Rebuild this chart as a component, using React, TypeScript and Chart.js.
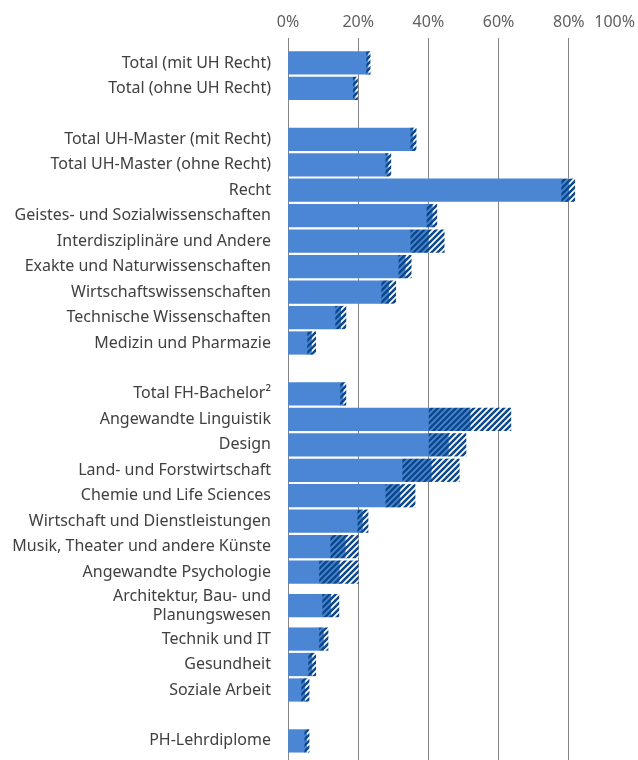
import { useEffect, useRef } from 'react';
import { Chart, registerables } from 'chart.js';

Chart.register(...registerables);

const categories = [
  'Total (mit UH Recht)',
  'Total (ohne UH Recht)',
  '',
  'Total UH-Master (mit Recht)',
  'Total UH-Master (ohne Recht)',
  'Recht',
  'Geistes- und Sozialwissenschaften',
  'Interdisziplinäre und Andere',
  'Exakte und Naturwissenschaften',
  'Wirtschaftswissenschaften',
  'Technische Wissenschaften',
  'Medizin und Pharmazie',
  '',
  'Total FH-Bachelor²',
  'Angewandte Linguistik',
  'Design',
  'Land- und Forstwirtschaft',
  'Chemie und Life Sciences',
  'Wirtschaft und Dienstleistungen',
  'Musik, Theater und andere Künste',
  'Angewandte Psychologie',
  'Architektur, Bau- und\nPlanungswesen',
  'Technik und IT',
  'Gesundheit',
  'Soziale Arbeit',
  '',
  'PH-Lehrdiplome',
];

// point estimate (%)
const estimate = [22.8, 19.1, null, 35.6, 28.5, 80.0, 41.1, 40.0, 33.4, 28.7, 15.0, 6.7, null, 15.7, 51.9, 45.7, 40.8, 31.9, 21.2, 16.3, 14.6, 12.2, 10.1, 6.8, 4.8, null, 5.3];
// lower bound of interval (%)
const lower = [22.2, 18.4, null, 34.8, 27.7, 77.8, 39.4, 34.8, 31.4, 26.5, 13.4, 5.4, null, 14.8, 40.0, 40.0, 32.5, 27.7, 19.7, 12.0, 8.8, 9.7, 8.8, 5.7, 3.7, null, 4.6];
// upper bound of interval (%)
const upper = [23.4, 19.8, null, 36.5, 29.3, 81.7, 42.4, 44.5, 35.1, 30.7, 16.5, 7.9, null, 16.5, 63.5, 50.7, 48.8, 36.2, 22.8, 20.0, 20.0, 14.5, 11.4, 7.9, 6.0, null, 6.0];

const xTicks = [0, 20, 40, 60, 80, 100];

const BLUE = '#4a86d4';
const DARK = '#0b4789';
const EXTRA_PER_LINE = 0.63;

function makeHatch(bg: string) {
  const p = 6;
  const T = 12;
  const c = document.createElement('canvas');
  c.width = T;
  c.height = T;
  const g = c.getContext('2d')!;
  g.fillStyle = bg;
  g.fillRect(0, 0, T, T);
  g.strokeStyle = DARK;
  g.lineWidth = 2.5;
  for (let k = -1; k <= 5; k++) {
    const cc = k * p;
    g.beginPath();
    g.moveTo(cc + 3, -3);
    g.lineTo(cc - T - 3, T + 3);
    g.stroke();
  }
  return g.createPattern(c, 'repeat')!;
}

export default function App() {
  const ref = useRef<HTMLCanvasElement | null>(null);

  useEffect(() => {
    if (!ref.current) return;
    // row positions (multi-line labels get extra room)
    const pos: number[] = [];
    let p = 0;
    categories.forEach((c) => {
      const n = c.split('\n').length;
      p += ((n - 1) * EXTRA_PER_LINE) / 2;
      pos.push(p);
      p += ((n - 1) * EXTRA_PER_LINE) / 2 + 1;
    });
    const idx = categories.map((_, i) => i).filter((i) => categories[i] !== '');
    const tickPos = idx.map((i) => pos[i]);
    const tickLabels = idx.map((i) => {
      const parts = categories[i].split('\n');
      return parts.length > 1 ? parts : parts[0];
    });

    const hatchDark = makeHatch(BLUE);
    const hatchLight = makeHatch('#ffffff');

    const xLabelPlugin = {
      id: 'xLabels',
      afterDraw(chart: any) {
        const s = chart.scales.x;
        const ctx = chart.ctx;
        ctx.save();
        ctx.font = '16px "Noto Sans"';
        ctx.fillStyle = '#5f5f5f';
        ctx.textBaseline = 'middle';
        ctx.textAlign = 'center';
        s.ticks.forEach((t: any) => {
          const txt = `${t.value}%`;
          const w = ctx.measureText(txt).width;
          let x = s.getPixelForValue(t.value);
          x = Math.min(x, chart.width - 4 - w / 2);
          ctx.fillText(txt, x, 22);
        });
        ctx.restore();
      },
    };

    Chart.defaults.font.family = '"Noto Sans"';

    const chart = new Chart(ref.current, {
      type: 'bar',
      data: {
        datasets: [
          {
            label: 'Untergrenze',
            data: idx.map((i) => ({ x: lower[i] as number, y: pos[i] })),
            backgroundColor: BLUE,
          },
          {
            label: 'Schätzung',
            data: idx.map((i) => ({ x: (estimate[i] as number) - (lower[i] as number), y: pos[i] })),
            backgroundColor: hatchDark,
          },
          {
            label: 'Obergrenze',
            data: idx.map((i) => ({ x: (upper[i] as number) - (estimate[i] as number), y: pos[i] })),
            backgroundColor: hatchLight,
          },
        ],
      },
      options: {
        indexAxis: 'y',
        responsive: false,
        animation: false,
        layout: { padding: { top: 38, left: 0, right: 0, bottom: 0 } },
        plugins: { legend: { display: false }, tooltip: { enabled: false } },
        datasets: { bar: { barThickness: 22.6, borderWidth: 0 } },
        scales: {
          x: {
            type: 'linear',
            position: 'top',
            stacked: true,
            min: 0,
            max: 100,
            grid: { color: '#858585', lineWidth: 1, drawTicks: false },
            border: { display: false },
            ticks: { display: false },
            afterBuildTicks: (s: any) => {
              s.ticks = xTicks.map((v) => ({ value: v }));
            },
            afterFit: (s: any) => {
              s.paddingLeft = 0;
              s.paddingRight = 0;
            },
          },
          y: {
            type: 'linear',
            reverse: true,
            stacked: true,
            offset: false,
            min: -0.98,
            max: 27.38,
            grid: { display: false, offset: false, drawTicks: false },
            border: { display: false },
            afterBuildTicks: (s: any) => {
              s.ticks = tickPos.map((v) => ({ value: v }));
            },
            afterFit: (s: any) => {
              s.width = 288;
              s.paddingTop = 0;
              s.paddingBottom = 0;
            },
            ticks: {
              autoSkip: false,
              padding: 17,
              color: '#404040',
              font: { family: '"Noto Sans"', size: 16, lineHeight: 1.17 },
              callback: (_v: any, i: number) => tickLabels[i],
            },
          },
        },
      } as any,
      plugins: [xLabelPlugin],
    });
    return () => chart.destroy();
  }, []);

  return (
    <div style={{ position: 'absolute', left: 0, top: 0, width: 638, height: 760, overflow: 'hidden', background: '#fff' }}>
      <canvas ref={ref} width={639} height={760} style={{ display: 'block', width: 639, height: 760 }} />
    </div>
  );
}
